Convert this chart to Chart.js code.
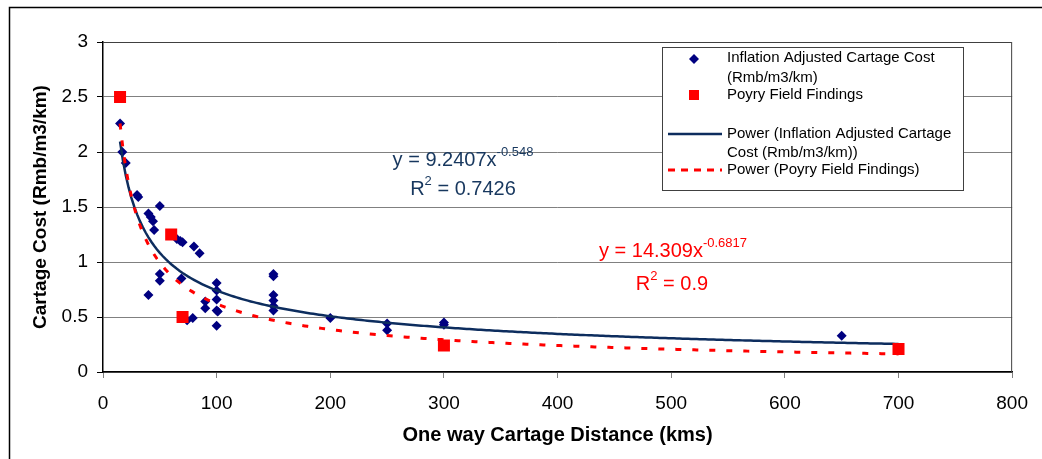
<!DOCTYPE html>
<html>
<head>
<meta charset="utf-8">
<script src="https://cdn.jsdelivr.net/npm/chart.js@4.4.1/dist/chart.umd.min.js"></script>
<style>
  html, body { margin: 0; padding: 0; background: #fff; }
  #wrap { width: 1042px; height: 459px; position: relative; }
</style>
</head>
<body>
<div id="wrap"><canvas id="cartage" width="1042" height="459"></canvas></div>
<script>
// Inflation adjusted cartage cost survey points (km, Rmb/m3/km)
const costDistance = [15, 17, 20, 30, 31, 40, 40, 42, 44, 45, 50, 50, 50, 65, 68, 70, 69, 74, 80, 79, 85, 90, 90,
  100, 100, 100, 100, 101, 100, 150, 150, 150, 150, 150, 150, 200, 250, 250, 300, 300, 650];
const costValue = [2.26, 2.0, 1.9, 1.61, 1.59, 1.44, 0.70, 1.41, 1.37, 1.29, 1.51, 0.89, 0.83, 1.21, 1.19, 1.18, 0.85, 0.47, 1.14, 0.49, 1.08, 0.64, 0.58,
  0.81, 0.74, 0.66, 0.56, 0.55, 0.42, 0.89, 0.87, 0.70, 0.65, 0.60, 0.56, 0.49, 0.44, 0.38, 0.45, 0.43, 0.33];

// Poyry field findings
const poyryDistance = [15, 60, 70, 300, 700];
const poyryValue = [2.5, 1.25, 0.5, 0.24, 0.21];

// Excel power trendlines y = a * x^b, drawn over the fitted range
const trendCoef = [9.2407, 14.309];
const trendExp = [-0.548, -0.6817];
const trendRange = [15, 700];

const xTicks = [0, 100, 200, 300, 400, 500, 600, 700, 800];
const yTicks = [0, 0.5, 1, 1.5, 2, 2.5, 3];

const FONT = "'Liberation Sans', Arial, sans-serif";

const powerCurve = (a, b) => {
  const pts = [];
  for (let x = trendRange[0]; x <= trendRange[1]; x += 2.5) pts.push({ x, y: a * Math.pow(x, b) });
  return pts;
};

const drawEquation = (ctx, cx, base, main, sup, rest, color) => {
  ctx.save();
  ctx.fillStyle = color;
  ctx.textBaseline = 'alphabetic';
  ctx.textAlign = 'left';
  const big = '20px ' + FONT, small = '13px ' + FONT;
  ctx.font = big;
  const w1 = ctx.measureText(main).width;
  const w3 = ctx.measureText(rest).width;
  ctx.font = small;
  const w2 = ctx.measureText(sup).width;
  let x = cx - (w1 + w2 + w3) / 2;
  ctx.font = big;
  ctx.fillText(main, x, base);
  x += w1;
  ctx.font = small;
  ctx.fillText(sup, x, base - 10);
  x += w2;
  ctx.font = big;
  ctx.fillText(rest, x, base);
  ctx.restore();
};

const overlay = {
  id: 'overlay',
  beforeDraw(chart) {
    const ctx = chart.ctx;
    ctx.save();
    ctx.fillStyle = '#fff';
    ctx.fillRect(0, 0, chart.width, chart.height);
    ctx.restore();
  },
  afterDraw(chart) {
    const ctx = chart.ctx;
    const a = chart.chartArea;
    ctx.save();
    // outer frame
    ctx.strokeStyle = '#000';
    ctx.lineWidth = 1.5;
    ctx.beginPath();
    ctx.moveTo(9.5, chart.height);
    ctx.lineTo(9.5, 7.5);
    ctx.lineTo(chart.width, 7.5);
    ctx.stroke();
    // plot area top / right border
    ctx.strokeStyle = '#404040';
    ctx.lineWidth = 1;
    ctx.beginPath();
    ctx.moveTo(a.left, a.top + 0.5);
    ctx.lineTo(a.right - 0.5, a.top + 0.5);
    ctx.lineTo(a.right - 0.5, a.bottom);
    ctx.stroke();

    // trendline equations
    drawEquation(ctx, 463, 166, 'y = 9.2407x', '-0.548', '', '#17375e');
    drawEquation(ctx, 463, 195, 'R', '2', ' = 0.7426', '#17375e');
    drawEquation(ctx, 673, 257, 'y = 14.309x', '-0.6817', '', '#ff0000');
    drawEquation(ctx, 672, 290, 'R', '2', ' = 0.9', '#ff0000');

    // legend box
    ctx.fillStyle = '#fff';
    ctx.fillRect(662, 47, 301, 143);
    ctx.strokeStyle = '#404040';
    ctx.strokeRect(662.5, 47.5, 301, 143);

    ctx.fillStyle = '#000080';
    ctx.beginPath();
    ctx.moveTo(694, 54); ctx.lineTo(699, 59); ctx.lineTo(694, 64); ctx.lineTo(689, 59);
    ctx.closePath();
    ctx.fill();
    ctx.fillStyle = '#ff0000';
    ctx.fillRect(689, 90, 10, 10);

    ctx.strokeStyle = '#0d2d5e';
    ctx.lineWidth = 2.5;
    ctx.beginPath();
    ctx.moveTo(668, 134); ctx.lineTo(722, 134);
    ctx.stroke();
    ctx.strokeStyle = '#ff0000';
    ctx.lineWidth = 3;
    ctx.setLineDash([7, 6]);
    ctx.beginPath();
    ctx.moveTo(668, 170); ctx.lineTo(722, 170);
    ctx.stroke();
    ctx.setLineDash([]);

    ctx.fillStyle = '#000';
    ctx.font = '15px ' + FONT;
    ctx.textBaseline = 'middle';
    ctx.textAlign = 'left';
    ctx.fillText('Inflation Adjusted Cartage Cost', 727, 58);
    ctx.fillText('(Rmb/m3/km)', 727, 78);
    ctx.fillText('Poyry Field Findings', 727, 95);
    ctx.fillText('Power (Inflation Adjusted Cartage', 727, 134);
    ctx.fillText('Cost (Rmb/m3/km))', 727, 153);
    ctx.fillText('Power (Poyry Field Findings)', 727, 170);
    ctx.restore();
  }
};

const ctx = document.getElementById('cartage').getContext('2d');

new Chart(ctx, {
  type: 'scatter',
  data: {
    datasets: [
      {
        label: 'Inflation Adjusted Cartage Cost (Rmb/m3/km)',
        data: costDistance.map((x, i) => ({ x, y: costValue[i] })),
        pointStyle: 'rectRot',
        pointRadius: 5,
        backgroundColor: '#000080',
        borderColor: '#000080',
        borderWidth: 0,
        order: 3
      },
      {
        label: 'Poyry Field Findings',
        data: poyryDistance.map((x, i) => ({ x, y: poyryValue[i] })),
        pointStyle: 'rect',
        pointRadius: 8.5,
        backgroundColor: '#ff0000',
        borderColor: '#ff0000',
        borderWidth: 0,
        order: 0
      },
      {
        type: 'line',
        label: 'Power (Inflation Adjusted Cartage Cost (Rmb/m3/km))',
        data: powerCurve(trendCoef[0], trendExp[0]),
        borderColor: '#0d2d5e',
        borderWidth: 2.5,
        pointRadius: 0,
        fill: false,
        tension: 0,
        order: 2
      },
      {
        type: 'line',
        label: 'Power (Poyry Field Findings)',
        data: powerCurve(trendCoef[1], trendExp[1]),
        borderColor: '#ff0000',
        borderWidth: 3,
        borderDash: [6, 11],
        pointRadius: 0,
        fill: false,
        tension: 0,
        order: 1
      }
    ]
  },
  options: {
    responsive: false,
    animation: false,
    layout: { padding: { top: 42, right: 26, left: 0, bottom: 0 } },
    plugins: {
      legend: { display: false },
      tooltip: { enabled: false }
    },
    scales: {
      x: {
        type: 'linear',
        min: xTicks[0],
        max: xTicks[xTicks.length - 1],
        afterBuildTicks: s => { s.ticks = xTicks.map(v => ({ value: v })); },
        afterFit: s => { s.height = 87; },
        ticks: { color: '#000', font: { family: FONT, size: 19 }, padding: 14, maxRotation: 0, callback: v => String(v) },
        grid: { drawOnChartArea: false, tickLength: 6, color: '#808080' },
        border: { color: '#000', width: 1.5 },
        title: {
          display: true,
          text: 'One way Cartage Distance (kms)',
          color: '#000',
          font: { family: FONT, size: 20, weight: 'bold' },
          padding: { top: 0, bottom: 12 }
        }
      },
      y: {
        min: yTicks[0],
        max: yTicks[yTicks.length - 1],
        afterBuildTicks: s => { s.ticks = yTicks.map(v => ({ value: v })); },
        afterFit: s => { s.width = 103; },
        ticks: { color: '#000', font: { family: FONT, size: 19 }, padding: 9, callback: v => String(v) },
        grid: { color: '#808080', tickLength: 6, tickColor: '#000' },
        border: { color: '#000', width: 1.5 },
        title: {
          display: true,
          text: 'Cartage Cost (Rmb/m3/km)',
          color: '#000',
          font: { family: FONT, size: 19, weight: 'bold' },
          padding: { top: 29, bottom: 0 }
        }
      }
    }
  },
  plugins: [overlay]
});
</script>
</body>
</html>
